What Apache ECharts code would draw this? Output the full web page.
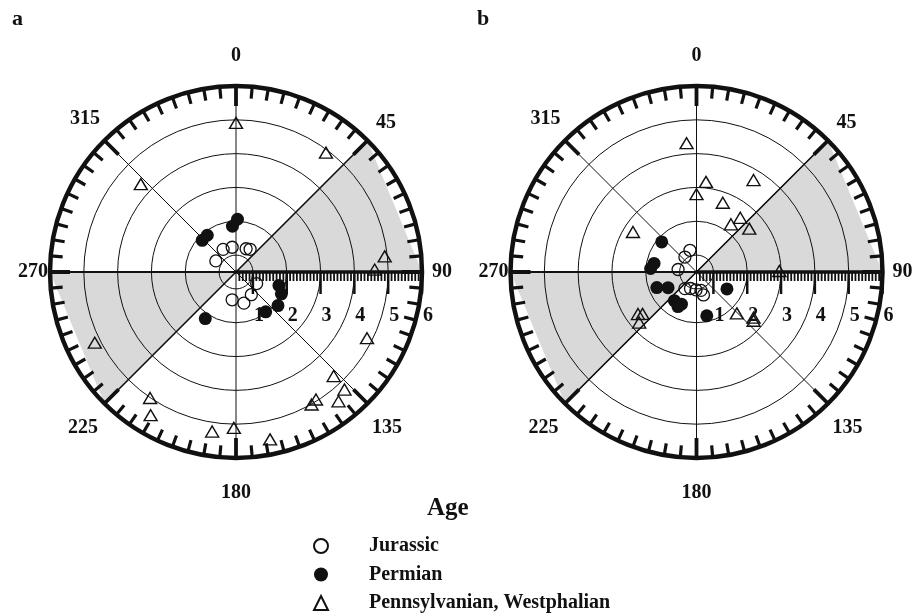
<!DOCTYPE html>
<html>
<head>
<meta charset="utf-8">
<script src="https://cdn.jsdelivr.net/npm/echarts@6.0.0/dist/echarts.min.js"></script>
<style>
  html, body { margin: 0; padding: 0; background: #fff; }
  #chart { width: 915px; height: 613px; }
</style>
</head>
<body>
<div id="chart"></div>
<script>
// Each point is [radial value, azimuth in degrees clockwise from north].
const jurassicA = [[1.27,330.4],[1.24,351.2],[1.25,23.5],[1.29,31.9],[1.18,298.8],[1.33,187.9],[1.45,165.8],[1.31,146],[1.20,119.3]];
const permianA = [[2.06,1.6],[1.86,355.6],[1.88,322],[1.87,313.2],[1.83,107.3],[1.99,115.7],[2.09,128.7],[1.97,143.3],[2.15,213.4]];
const westphalianA = [[4.91,0],[4.92,37],[4.33,312.7],[4.92,84],[4.60,89],[4.84,116.8],[4.72,136.8],[5.23,137.3],[5.38,141.6],[4.95,147.9],[5.01,150.3],[5.11,180.8],[5.55,168.5],[5.27,188.5],[5.01,214.3],[5.43,210.8],[5.17,243.4]];

const jurassicB = [[1.17,343.2],[1.06,322.2],[1.05,277.8],[1.10,214.9],[1.02,200],[1.03,181.6],[1.06,166.3],[1.21,163.1]];
const permianB = [[1.86,310.8],[1.78,281.4],[1.86,274.4],[1.76,248.6],[1.46,241.2],[1.57,217.7],[1.55,205.1],[1.66,208.2],[1.53,119.1],[1.83,166.8]];
const westphalianB = [[4.32,355.6],[3.18,6],[2.80,0],[3.70,31.8],[2.69,20.8],[2.56,38.9],[2.24,35.8],[2.52,50.6],[2.72,302.2],[2.63,234.3],[2.52,232.2],[2.76,228.6],[2.95,89.3],[2.21,135.7],[2.66,128.7],[2.72,130.5]];

// Shaded azimuth ranges (from, to) and the radial scale.
const shadedSectors = [[45, 90], [225, 270]];
const radialTicks = [1, 2, 3, 4, 5, 6];
const radialMin = 0.5;
const radialMax = 6;
const radialMinorStep = 0.1;
const azimuthLabels = [0, 45, 90, 135, 180, 225, 270, 315];

const SERIF = "'Liberation Serif', 'Times New Roman', serif";
const INK = '#111';

// The angle axis starts at east (so the radial axis points east);
// azimuths are shifted so that 0 sits at north.
const toAxis = az => (az + 270) % 360;
const fromAxis = v => (v + 90) % 360;
const place = pts => pts.map(p => [p[0], toAxis(p[1])]);

// radial scale ticks: whole values are major, tenths are minor
const radialScaleTicks = [];
for (let k = Math.round(radialMin / radialMinorStep) + 1; k <= Math.round(radialMax / radialMinorStep); k++) {
  const v = Math.round(k * radialMinorStep * 10) / 10;
  radialScaleTicks.push([v, radialTicks.indexOf(v) >= 0 ? 1 : 0]);
}

// extra room around each azimuth label, [top, right, bottom, left]
const labelPad = {
  0: [0, 0, 18, 0], 45: [0, 0, 6, 7], 90: [0, 0, 0, 8], 135: [13, 0, 0, 3],
  180: [23, 0, 0, 0], 225: [13, 5, 0, 0], 270: [0, 0, 0, 0], 315: [0, 3, 10, 0]
};
const labelRich = {};
azimuthLabels.forEach(az => {
  labelRich['a' + az] = { padding: labelPad[az], fontFamily: SERIF, fontWeight: 'bold', fontSize: 20, color: INK };
});

const chart = echarts.init(document.getElementById('chart'));

const centers = [[236, 272], [696.5, 272]];
const panels = [
  { jur: jurassicA, perm: permianA, west: westphalianA },
  { jur: jurassicB, perm: permianB, west: westphalianB }
];

const polar = centers.map(c => ({ center: c, radius: 186 }));

const angleAxis = centers.map((c, i) => ({
  polarIndex: i,
  type: 'value',
  min: 0, max: 360, interval: 45,
  startAngle: 0, clockwise: true,
  axisLine: { lineStyle: { color: INK, width: 4.5 } },
  axisTick: { inside: true, length: 20, lineStyle: { color: INK, width: 3.8 } },
  minorTick: { show: true, splitNumber: 9, length: 12, lineStyle: { color: INK, width: 3.2 } },
  axisLabel: {
    formatter: v => {
      const az = fromAxis(v);
      return azimuthLabels.indexOf(az) >= 0 ? '{a' + az + '|' + az + '}' : '';
    },
    margin: 2,
    rich: labelRich,
    fontFamily: SERIF, fontWeight: 'bold', fontSize: 20, color: INK
  },
  splitLine: { show: true, lineStyle: { color: INK, width: 1 } }
}));

const radiusAxis = centers.map((c, i) => ({
  polarIndex: i,
  type: 'value',
  min: radialMin, max: radialMax, interval: 0.5,
  axisLine: { lineStyle: { color: INK, width: 3.5 } },
  axisTick: { show: false },
  axisLabel: { show: false },
  splitLine: { show: true, lineStyle: { color: ['rgba(0,0,0,0)', INK], width: 1 } }
}));

const series = [];
panels.forEach((p, i) => {
  // grey wedges: centre plus the two ring points of each range
  series.push({
    type: 'custom', coordinateSystem: 'polar', polarIndex: i, silent: true, z: -1,
    data: shadedSectors.map(s => [radialMax, s[0], s[1]]),
    renderItem: (params, api) => {
      const c = api.coord([radialMin, 0]);
      const p0 = api.coord([radialMax, toAxis(api.value(1))]);
      const p1 = api.coord([radialMax, toAxis(api.value(2))]);
      return { type: 'polygon', shape: { points: [c, p0, p1] }, style: { fill: '#d9d9d9', stroke: null } };
    }
  });
  // heavier radial lines: west half of the E-W line and the NE-SW line
  series.push({
    type: 'line', coordinateSystem: 'polar', polarIndex: i, silent: true, symbol: 'none', z: 1,
    data: [[radialMax, toAxis(270)], [radialMin, toAxis(270)]],
    lineStyle: { color: INK, width: 2.2 }
  });
  series.push({
    type: 'line', coordinateSystem: 'polar', polarIndex: i, silent: true, symbol: 'none', z: 1,
    data: [[radialMax, toAxis(shadedSectors[0][0])], [radialMin, 0], [radialMax, toAxis(shadedSectors[1][0])]],
    lineStyle: { color: INK, width: 1.6 }
  });
  // radial scale along the east line: ticks hang below it, numbers under the long ones
  series.push({
    type: 'custom', coordinateSystem: 'polar', polarIndex: i, silent: true, z: 3,
    data: radialScaleTicks,
    renderItem: (params, api) => {
      const v = api.value(0);
      const major = api.value(1) === 1;
      const pt = api.coord([v, 0]);
      const children = [{
        type: 'line',
        shape: { x1: pt[0], y1: pt[1], x2: pt[0], y2: pt[1] + (major ? 22 : 9) },
        style: { stroke: INK, lineWidth: major ? 2.5 : 1.8 }
      }];
      if (major) {
        children.push({
          type: 'text',
          style: {
            x: pt[0] + 1, y: pt[1] + 44, text: String(v),
            align: 'left', verticalAlign: 'middle',
            font: 'bold 20px ' + SERIF, fill: INK
          }
        });
      }
      return { type: 'group', children: children };
    }
  });
  series.push({
    name: 'Jurassic', type: 'scatter', coordinateSystem: 'polar', polarIndex: i, z: 4,
    symbol: 'circle', symbolSize: 12,
    itemStyle: { color: 'rgba(255,255,255,0)', borderColor: INK, borderWidth: 1.3, opacity: 1 },
    data: place(p.jur)
  });
  series.push({
    name: 'Permian', type: 'scatter', coordinateSystem: 'polar', polarIndex: i, z: 4,
    symbol: 'circle', symbolSize: 13,
    itemStyle: { color: INK, opacity: 1 },
    data: place(p.perm)
  });
  series.push({
    name: 'Pennsylvanian, Westphalian', type: 'scatter', coordinateSystem: 'polar', polarIndex: i, z: 4,
    symbol: 'triangle', symbolSize: [13, 11],
    itemStyle: { color: 'rgba(255,255,255,0)', borderColor: INK, borderWidth: 1.4, opacity: 1 },
    data: place(p.west)
  });
});

chart.setOption({
  animation: false,
  backgroundColor: '#fff',
  title: [
    { text: 'a', left: 12, top: 8, padding: 0, textStyle: { fontFamily: SERIF, fontWeight: 'bold', fontSize: 22, color: INK } },
    { text: 'b', left: 477, top: 8, padding: 0, textStyle: { fontFamily: SERIF, fontWeight: 'bold', fontSize: 22, color: INK } },
    { text: 'Age', left: 427, top: 496, padding: 0, textStyle: { fontFamily: SERIF, fontWeight: 'bold', fontSize: 25, color: INK } }
  ],
  legend: {
    orient: 'vertical', left: 313, top: 536, height: 90, padding: 0,
    itemWidth: 14, itemHeight: 14, itemGap: 8.5,
    data: ['Jurassic', 'Permian', 'Pennsylvanian, Westphalian'],
    textStyle: { fontFamily: SERIF, fontWeight: 'bold', fontSize: 20, color: INK, padding: [0, 0, 0, 36] },
    selectedMode: false
  },
  polar: polar,
  angleAxis: angleAxis,
  radiusAxis: radiusAxis,
  series: series
});
</script>
</body>
</html>
